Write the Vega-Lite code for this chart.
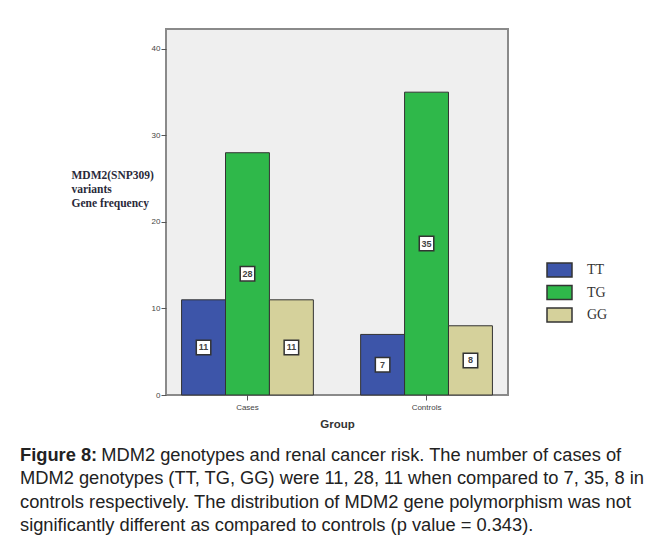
{
  "$schema": "https://vega.github.io/schema/vega-lite/v6.json",
  "autosize": "none",
  "width": 342,
  "height": 366,
  "padding": {"left": 166, "top": 29, "right": 156, "bottom": 154},
  "background": "white",
  "data": {
    "values": [
      {"Group": "Cases", "Genotype": "TT", "count": 11},
      {"Group": "Cases", "Genotype": "TG", "count": 28},
      {"Group": "Cases", "Genotype": "GG", "count": 11},
      {"Group": "Controls", "Genotype": "TT", "count": 7},
      {"Group": "Controls", "Genotype": "TG", "count": 35},
      {"Group": "Controls", "Genotype": "GG", "count": 8}
    ]
  },
  "title": {
    "text": "Figure 8:",
    "subtitle": [
      "\u200b\u00a0\u00a0\u00a0\u00a0\u00a0\u00a0\u00a0\u00a0\u00a0\u00a0\u00a0\u00a0\u00a0\u00a0\u00a0\u00a0MDM2 genotypes and renal cancer risk. The number of cases of",
      "MDM2 genotypes (TT, TG, GG) were 11, 28, 11 when compared to 7, 35, 8 in",
      "controls respectively. The distribution of MDM2 gene polymorphism was not",
      "significantly different as compared to controls (p value = 0.343)."
    ],
    "orient": "bottom",
    "anchor": "start",
    "frame": "group",
    "dx": -146,
    "offset": 17,
    "font": "Liberation Sans",
    "fontSize": 18.3,
    "fontWeight": "bold",
    "color": "#222222",
    "subtitleFont": "Liberation Sans",
    "subtitleFontSize": 18.3,
    "subtitleColor": "#222222",
    "subtitleLineHeight": 23.5,
    "subtitlePadding": -18.3
  },
  "config": {
    "view": {"fill": "#efefef", "stroke": "#8a8a8a", "strokeWidth": 2}
  },
  "resolve": {"scale": {"y": "independent"}},
  "encoding": {
    "x": {
      "field": "Group",
      "type": "nominal",
      "scale": {"paddingInner": 0.264, "paddingOuter": 0.087},
      "axis": {
        "title": "Group",
        "labelAngle": 0,
        "labelFont": "Liberation Sans",
        "labelFontSize": 8,
        "labelColor": "#444444",
        "labelPadding": 3,
        "tickSize": 5,
        "tickColor": "#555555",
        "domain": false,
        "titleFont": "Liberation Sans",
        "titleFontSize": 11.5,
        "titleFontWeight": "bold",
        "titleColor": "#333333",
        "titlePadding": 7
      }
    },
    "xOffset": {"field": "Genotype", "type": "nominal", "sort": ["TT", "TG", "GG"], "scale": {"paddingInner": 0, "paddingOuter": 0}}
  },
  "layer": [
    {
      "mark": {"type": "bar", "stroke": "#333333", "strokeWidth": 1},
      "encoding": {
        "y": {
          "field": "count",
          "type": "quantitative",
          "scale": {"domain": [0, 42.3], "nice": false},
          "axis": {
            "values": [0, 10, 20, 30, 40],
            "grid": false,
            "domain": false,
            "tickSize": 5,
            "tickColor": "#555555",
            "labelFont": "Liberation Sans",
            "labelFontSize": 8,
            "labelColor": "#444444",
            "labelPadding": 1,
            "title": ["MDM2(SNP309)", "variants", "Gene frequency"],
            "titleFont": "Liberation Serif",
            "titleFontWeight": "bold",
            "titleFontSize": 11.5,
            "titleColor": "#2a2a3a",
            "titleAngle": 0,
            "titleAlign": "left",
            "titleBaseline": "top",
            "titleX": -95,
            "titleY": 140,
            "titleLineHeight": 14
          }
        },
        "color": {
          "field": "Genotype",
          "type": "nominal",
          "sort": ["TT", "TG", "GG"],
          "scale": {"domain": ["TT", "TG", "GG"], "range": ["#3d55a9", "#2fb84a", "#d5d19b"]},
          "legend": {
            "title": null,
            "orient": "none",
            "legendX": 382.5,
            "legendY": 230,
            "symbolType": "M-1.25,-0.7H1.25V0.7H-1.25Z",
            "symbolSize": 400,
            "symbolStrokeColor": "#333333",
            "symbolStrokeWidth": 1.5,
            "labelFont": "Liberation Serif",
            "labelFontSize": 14,
            "labelColor": "#333333",
            "labelOffset": 16.5,
            "rowPadding": 1.5
          }
        }
      }
    },
    {
      "mark": {"type": "point", "shape": "square", "filled": true, "fill": "white", "stroke": "#333333", "strokeWidth": 1.5, "size": 210, "opacity": 1},
      "encoding": {
        "y": {"field": "count", "type": "quantitative", "scale": {"domain": [0, 84.6], "nice": false}, "axis": null}
      }
    },
    {
      "mark": {"type": "text", "font": "Liberation Sans", "fontSize": 9, "fontWeight": "bold", "color": "#444444", "baseline": "middle", "align": "center"},
      "encoding": {
        "y": {"field": "count", "type": "quantitative", "scale": {"domain": [0, 84.6], "nice": false}, "axis": null},
        "text": {"field": "count", "type": "quantitative"}
      }
    }
  ]
}
